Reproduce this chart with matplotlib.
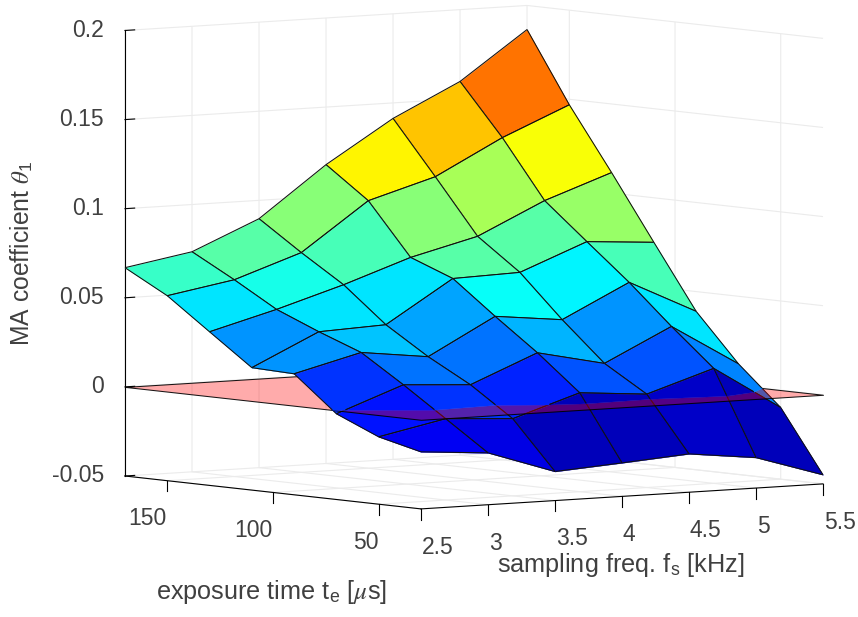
import matplotlib
matplotlib.use('Agg')
import numpy as np
import matplotlib.pyplot as plt
from matplotlib.colors import LinearSegmentedColormap, Normalize
from matplotlib.text import Text
from mpl_toolkits.mplot3d.art3d import Poly3DCollection, Line3DCollection
from mpl_toolkits.mplot3d import proj3d

plt.rcParams['font.family'] = ['Liberation Sans', 'DejaVu Sans']
plt.rcParams['mathtext.fontset'] = 'custom'
plt.rcParams['mathtext.rm'] = 'Liberation Sans'
plt.rcParams['mathtext.it'] = 'STIXGeneral:italic'

fs_khz = [2.5, 3.0, 3.5, 4.0, 4.5, 5.0, 5.5]
te_us = [30, 50, 70, 90, 110, 130, 150, 170]
theta_te30 = [-.0180, -.0209, -.0337, -.0312, -.0285, -.0329, -.0449]
theta_te50 = [-.0122, -.0044, -.0067, .0055, .0024, .0145, -.0098]
theta_te70 = [-.0019, .0120, .0097, .0253, .0170, .0354, .0121]
theta_te90 = [.0179, .0275, .0228, .0431, .0389, .0575, .0389]
theta_te110 = [.0187, .0365, .0381, .0617, .0628, .0777, .0750]
theta_te130 = [.0362, .0464, .0579, .0709, .0804, .0981, .1115]
theta_te150 = [.0538, .0604, .0733, .1001, .1112, .1308, .1469]
theta_te170 = [.0669, .0735, .0897, .1177, .1413, .1597, .1865]
Z = np.array([theta_te30, theta_te50, theta_te70, theta_te90,
              theta_te110, theta_te130, theta_te150, theta_te170])
fs_ticks = [2.5, 3, 3.5, 4, 4.5, 5, 5.5]
fs_labels = ['2.5', '3', '3.5', '4', '4.5', '5', '5.5']
te_ticks = [50, 100, 150]
te_labels = ['50', '100', '150']
z_ticks = [-0.05, 0, 0.05, 0.1, 0.15, 0.2]
z_labels = ['-0.05', '0', '0.05', '0.1', '0.15', '0.2']

W, H = 858, 617
TXT = '#404040'
AXC = '#262626'
jet = LinearSegmentedColormap.from_list('mjet', [
    (0.0, (0, 0, .5625)), (.125, (0, 0, 1)), (.375, (0, 1, 1)),
    (.625, (1, 1, 0)), (.875, (1, 0, 0)), (1.0, (.5, 0, 0))], N=64)
norm = Normalize(Z.min(), Z.max())

fig = plt.figure(figsize=(W / 100, H / 100), dpi=100, facecolor='white')
ax = fig.add_axes([0, 0, 1, 1], projection='3d', computed_zorder=False)
ax.set_proj_type('ortho')
ax.view_init(elev=4.77, azim=233.2)
ax.set_xlim(2.5, 5.5, view_margin=0)
ax.set_ylim(30, 170, view_margin=0)
ax.set_zlim(-0.05, 0.2, view_margin=0)
aspect = (502, 494, 447)
zoom = 1.3
ax.set_box_aspect(aspect, zoom=zoom)

ax.set_xticks(fs_ticks, fs_labels)
ax.set_yticks(te_ticks, te_labels)
ax.set_zticks(z_ticks, z_labels)
ax.tick_params(axis='x', labelsize=16.5, labelcolor=TXT, pad=5)
ax.tick_params(axis='y', labelsize=16.5, labelcolor=TXT, pad=5)
ax.tick_params(axis='z', labelsize=16.5, labelcolor=TXT, pad=-1)
for a in (ax.xaxis, ax.yaxis, ax.zaxis):
    a.set_pane_color((1, 1, 1, 1))
    a.pane.set_edgecolor('none')
    a._axinfo['grid'].update(color='#ebebeb', linewidth=0.8)
    a._axinfo['axisline']['color'] = AXC
    a._axinfo['axisline']['linewidth'] = 0.8
    a._axinfo['tick']['inward_factor'] = 0.0
    a._axinfo['tick']['outward_factor'] = 0.3
    a._axinfo['tick']['linewidth'] = {True: 0.8, False: 0.5}
    a._axinfo['tick']['color'] = AXC
for t in ax.zaxis.get_ticklabels():
    t.set_ha('right')
    t.set_va('center')
for t in ax.xaxis.get_ticklabels():
    t.set_ha('left')
for t in ax.yaxis.get_ticklabels():
    t.set_ha('right')
ax.zaxis.set_ticks_position('upper')
ax.zaxis.set_label_position('upper')
# the floor axes have vertical tick marks
ax.xaxis._get_tickdir = lambda pos: 2
ax.yaxis._get_tickdir = lambda pos: 2

labels = ((ax.xaxis, r'sampling freq. f$_{\mathrm{s}}$ [kHz]', 18.2, 0, (621, 565)),
          (ax.yaxis, r'exposure time t$_{\mathrm{e}}$ [$\mu$s]', 18.2, 0, (272, 592)),
          (ax.zaxis, r'MA coefficient $\theta_{\mathrm{1}}$', 17.8, 90, (22, 253)))
for a, txt, size, rot, _ in labels:
    a.set_rotate_label(False)
    a.set_label_text(txt, fontsize=size, color=TXT, rotation=rot)


def clip_poly(pts, sign):
    out = []
    n = len(pts)
    for k in range(n):
        a, b = pts[k], pts[(k + 1) % n]
        ina, inb = sign * a[2] >= 0, sign * b[2] >= 0
        if ina:
            out.append(a)
        if ina != inb:
            t = a[2] / (a[2] - b[2])
            out.append(a + t * (b - a))
    return out


def clip_seg(a, b, sign):
    ina, inb = sign * a[2] >= 0, sign * b[2] >= 0
    if ina and inb:
        return [a, b]
    if not ina and not inb:
        return None
    t = a[2] / (a[2] - b[2])
    m = a + t * (b - a)
    return [a, m] if ina else [m, b]


X = np.array(fs_khz)
Y = np.array(te_us)
for sign, base in ((-1, 100), (1, 1000)):
    order = base
    for j in range(len(Y) - 2, -1, -1):
        for i in range(len(X) - 2, -1, -1):
            corners = [np.array([X[p], Y[q], Z[q, p]], float)
                       for p, q in ((i, j), (i + 1, j), (i + 1, j + 1), (i, j + 1))]
            poly = clip_poly(corners, sign)
            if len(poly) < 3:
                continue
            col = jet(norm(Z[j, i]))
            pc = Poly3DCollection([poly], facecolors=[col], edgecolors=[col], linewidths=0.25)
            pc.set_zorder(order)
            pc.set_clip_on(False)
            ax.add_collection3d(pc, autolim=False)
            order += 1
            segs = [clip_seg(corners[k], corners[(k + 1) % 4], sign) for k in range(4)]
            segs = [s for s in segs if s is not None]
            lc = Line3DCollection(segs, colors='#101010', linewidths=0.75)
            lc.set_zorder(order)
            lc.set_clip_on(False)
            ax.add_collection3d(lc, autolim=False)
            order += 1

plane = [[(X[0], Y[0], 0), (X[-1], Y[0], 0), (X[-1], Y[-1], 0), (X[0], Y[-1], 0)]]
pp = Poly3DCollection(plane, facecolors=[(1, 0, 0, 0.33)], edgecolors=[(0, 0, 0, 0.9)], linewidths=0.75)
pp.set_zorder(900)
pp.set_clip_on(False)
ax.add_collection3d(pp, autolim=False)


def to_px(x, y, z):
    u, v, _ = proj3d.proj_transform(x, y, z, ax.get_proj())
    return ax.transData.transform((u, v))


# Fit the box to the reference: left floor corner (125,476), right floor corner (823,483)
fig.canvas.draw()
a = to_px(2.5, 170, -0.05)
b = to_px(5.5, 30, -0.05)
zoom *= 698 / (b[0] - a[0])
ax.set_box_aspect(aspect, zoom=zoom)
fig.canvas.draw()
a = to_px(2.5, 170, -0.05)
dx = 125 - a[0]
dy = (H - 476) - a[1]
ax.set_position([dx / W, dy / H, 1, 1])
fig.canvas.draw()

inv = ax.transData.inverted()

# Axis titles sit at fixed places on the canvas, as in the reference
for a, _, _, _, (px, py) in labels:
    u, v = inv.transform((px, H - py))
    a.label.set_x(u)
    a.label.set_y(v)
    a.label.set_position = lambda *args, **kw: None

# Floor tick labels start at (fs) or end at (te) the x of their tick
per_px = (inv.transform((1, 0)) - inv.transform((0, 0)))[0]


def shift_labels(axis, shift_px):
    for tick in axis.get_major_ticks():
        lab = tick.label1
        lab.set_position = (lambda xy, lab=lab, d=shift_px * per_px:
                            Text.set_position(lab, (xy[0] + d, xy[1])))


shift_labels(ax.xaxis, -16)
shift_labels(ax.yaxis, 22)

fig.savefig('out.png', dpi=100)
